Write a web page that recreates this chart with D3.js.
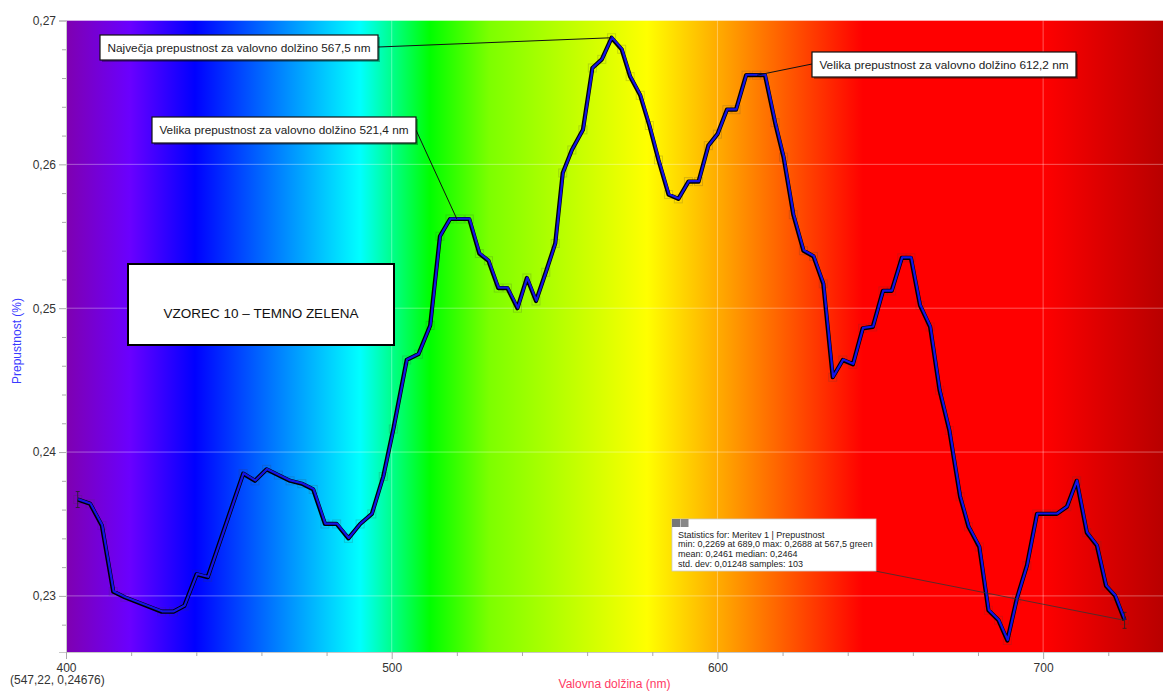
<!DOCTYPE html>
<html>
<head>
<meta charset="utf-8">
<script src="https://cdn.jsdelivr.net/npm/d3@7"></script>
<style>
  body { margin: 0; background: #fff; }
  svg { display: block; font-family: "Liberation Sans", Arial, sans-serif; }
</style>
</head>
<body>
<div id="chart"></div>
<script>
// =======================
// Prepustnost vs valovna dolzina (VZOREC 10)
// =======================

// Measured points (nm)
const wavelengths = [403.6, 407.4, 411.0, 414.5, 418.1, 429.4, 433.0, 436.3, 440.1, 443.5,
  454.4, 458.0, 461.6, 465.2, 468.8, 472.4, 475.9, 479.5, 483.1, 486.7,
  490.3, 493.9, 497.4, 500.5, 504.6, 508.2, 511.8, 514.8, 517.9, 521.0,
  523.8, 526.9, 529.7, 532.7, 535.5, 538.6, 541.5, 544.3, 547.3, 550.2,
  552.5, 555.3, 558.7, 561.6, 564.5, 567.5, 570.6, 573.2, 576.3, 579.1,
  581.9, 585.0, 588.0, 591.1, 594.2, 597.2, 600.0, 602.9, 605.7, 608.8,
  611.9, 614.6, 617.7, 620.3, 623.3, 626.4, 629.5, 632.5, 635.4, 638.5,
  641.6, 644.6, 647.7, 650.8, 653.5, 656.6, 659.4, 662.2, 665.3, 668.2,
  671.2, 674.5, 677.1, 680.4, 683.2, 686.3, 689.0, 691.9, 695.0, 698.1,
  701.1, 704.2, 707.3, 710.3, 713.4, 716.5, 719.3, 722.1, 725.0];

// Transmittance
const transmittance = [0.2367, 0.2364, 0.2349, 0.2303, 0.2299, 0.2289, 0.2289, 0.2293, 0.2315, 0.2313,
  0.2385, 0.2380, 0.2388, 0.2384, 0.2380, 0.2378, 0.2374, 0.2350, 0.2350, 0.2340,
  0.2350, 0.2357, 0.2383, 0.2416, 0.2464, 0.2468, 0.2488, 0.2550, 0.2562, 0.2562,
  0.2562, 0.2538, 0.2533, 0.2514, 0.2514, 0.2500, 0.2521, 0.2505, 0.2525, 0.2545,
  0.2594, 0.2610, 0.2624, 0.2667, 0.2673, 0.2688, 0.2680, 0.2661, 0.2648, 0.2627,
  0.2603, 0.2579, 0.2576, 0.2588, 0.2588, 0.2613, 0.2621, 0.2638, 0.2638, 0.2662,
  0.2662, 0.2662, 0.2629, 0.2605, 0.2565, 0.2540, 0.2536, 0.2517, 0.2452, 0.2464,
  0.2461, 0.2486, 0.2487, 0.2512, 0.2512, 0.2535, 0.2535, 0.2502, 0.2487, 0.2443,
  0.2415, 0.2369, 0.2348, 0.2334, 0.2290, 0.2283, 0.2269, 0.2298, 0.2321, 0.2357,
  0.2357, 0.2357, 0.2362, 0.2380, 0.2344, 0.2335, 0.2307, 0.2300, 0.2283];

// Spectrum background stops (nm -> colour)
const spectrumNm = [400, 419.7, 439.6, 490.3, 511.8, 530, 578.4, 644.7, 700, 736.8];
const spectrumColors = ["#7f00b0", "#6a00ff", "#0000ff", "#00ffff", "#00ff00", "#7cff00", "#ffff00", "#ff0000", "#ff0000", "#b80000"];

// Ticks
const xMajorTicks = [400, 500, 600, 700];
const xMinorTicks = d3.range(420, 737, 20).filter(d => d % 100 !== 0);
const yMajorTicks = [0.23, 0.24, 0.25, 0.26, 0.27];
const yMinorTicks = d3.range(0.228, 0.2701, 0.002).filter(d => Math.abs(d * 100 - Math.round(d * 100)) > 1e-6);

// Annotations
const notes = [
  { text: "Največja prepustnost za valovno dolžino 567,5 nm", wl: 567.5, val: 0.2688, box: [100, 35, 278, 25], from: [378, 47] },
  { text: "Velika prepustnost za valovno dolžino 521,4 nm", wl: 520.0, val: 0.2562, box: [152, 117, 264, 26], from: [416, 130] },
  { text: "Velika prepustnost za valovno dolžino 612,2 nm", wl: 612.2, val: 0.2662, box: [812, 52, 264, 25], from: [812, 64] }
];
const statsLines = [
  "Statistics for: Meritev 1 | Prepustnost",
  "min: 0,2269 at 689,0 max: 0,2688 at 567,5 green",
  "mean: 0,2461 median: 0,2464",
  "std. dev: 0,01248 samples: 103"
];

const W = 1163, H = 691;
const margin = { top: 20.5, right: 0, bottom: 39, left: 66 };

const svg = d3.select("#chart").append("svg")
  .attr("width", W)
  .attr("height", H);

const x = d3.scaleLinear().domain([400, 736.8]).range([margin.left, W - margin.right]);
const y = d3.scaleLinear().domain([0.2261, 0.27]).range([H - margin.bottom, margin.top]);

const fmt = d => d3.format(".2f")(d).replace(".", ",");

// Gradient
const grad = svg.append("defs").append("linearGradient")
  .attr("id", "spectrum")
  .attr("gradientUnits", "userSpaceOnUse")
  .attr("x1", x(400)).attr("x2", x(736.8))
  .attr("y1", 0).attr("y2", 0);
spectrumNm.forEach((nm, i) => {
  grad.append("stop")
    .attr("offset", (x(nm) - x(400)) / (x(736.8) - x(400)))
    .attr("stop-color", spectrumColors[i]);
});

svg.append("rect")
  .attr("x", x(400)).attr("y", y(0.27))
  .attr("width", x(736.8) - x(400))
  .attr("height", y(0.2261) - y(0.27))
  .attr("fill", "url(#spectrum)");

// Grid
svg.append("g").selectAll("line")
  .data(yMajorTicks)
  .join("line")
    .attr("x1", x(400)).attr("x2", x(736.8))
    .attr("y1", d => y(d)).attr("y2", d => y(d))
    .attr("stroke", "#fff").attr("stroke-opacity", 0.35).attr("stroke-width", 1);
svg.append("g").selectAll("line")
  .data(xMajorTicks.slice(1))
  .join("line")
    .attr("x1", d => x(d)).attr("x2", d => x(d))
    .attr("y1", y(0.27)).attr("y2", y(0.2261))
    .attr("stroke", "#fff").attr("stroke-opacity", 0.35).attr("stroke-width", 1);

// Axes
svg.append("g")
  .attr("transform", `translate(${margin.left},0)`)
  .call(d3.axisLeft(y).tickValues(yMajorTicks).tickFormat(fmt).tickSize(7).tickPadding(3));
svg.append("g")
  .attr("transform", `translate(${margin.left},0)`)
  .call(d3.axisLeft(y).tickValues(yMinorTicks).tickFormat("").tickSize(4))
  .call(g => g.select(".domain").remove());

svg.append("g")
  .attr("transform", `translate(0,${H - margin.bottom})`)
  .call(d3.axisBottom(x).tickValues(xMajorTicks).tickSize(7).tickPadding(4));
svg.append("g")
  .attr("transform", `translate(0,${H - margin.bottom})`)
  .call(d3.axisBottom(x).tickValues(xMinorTicks).tickFormat("").tickSize(4))
  .call(g => g.select(".domain").remove());

svg.selectAll(".domain").attr("stroke", "#c8c8c8");
svg.selectAll(".tick line").attr("stroke", "#aaa");
svg.selectAll(".tick text").attr("fill", "#333").style("font-size", "12px")
  .style("font-family", "'Liberation Sans', Arial, sans-serif");

// Axis titles
svg.append("text")
  .attr("transform", "rotate(-90)")
  .attr("x", -341).attr("y", 21)
  .attr("text-anchor", "middle")
  .attr("fill", "#3a3aff")
  .style("font-size", "12px")
  .text("Prepustnost (%)");

svg.append("text")
  .attr("x", (x(400) + x(736.8)) / 2).attr("y", 688)
  .attr("text-anchor", "middle")
  .attr("fill", "#ff3a64")
  .style("font-size", "12px")
  .text("Valovna dolžina (nm)");

svg.append("text")
  .attr("x", 10).attr("y", 684)
  .attr("fill", "#333")
  .style("font-size", "12px")
  .text("(547,22, 0,24676)");

// Data
const points = wavelengths.map((w, i) => ({ wl: w, val: transmittance[i] }));
const line = d3.line().x(d => x(d.wl)).y(d => y(d.val));

svg.append("g").selectAll("rect")
  .data(points)
  .join("rect")
    .attr("x", d => x(d.wl) - 4).attr("y", d => y(d.val) - 4)
    .attr("width", 8).attr("height", 8)
    .attr("fill", "none")
    .attr("stroke", "rgba(60,60,60,0.2)")
    .attr("stroke-width", 1);

svg.append("path")
  .datum(points)
  .attr("d", line)
  .attr("fill", "none")
  .attr("stroke", "#000")
  .attr("stroke-width", 4.2)
  .attr("stroke-linejoin", "round");

svg.append("path")
  .datum(points)
  .attr("transform", "translate(0.4,-0.4)")
  .attr("d", line)
  .attr("fill", "none")
  .attr("stroke", "#1414e6")
  .attr("stroke-width", 2.2)
  .attr("stroke-linejoin", "round");

// Cursor marks at first and last point
[points[0], points[points.length - 1]].forEach(p => {
  const cx = x(p.wl), cy = y(p.val);
  svg.append("path")
    .attr("d", `M${cx - 2},${cy - 8}h4M${cx},${cy - 8}v16M${cx - 2},${cy + 8}h4`)
    .attr("stroke", "#222").attr("stroke-width", 0.8).attr("fill", "none");
});

// Annotations
notes.forEach(n => {
  svg.append("line")
    .attr("x1", n.from[0]).attr("y1", n.from[1])
    .attr("x2", x(n.wl)).attr("y2", y(n.val))
    .attr("stroke", "#111").attr("stroke-width", 1);
  const [bx, by, bw, bh] = n.box;
  svg.append("rect")
    .attr("x", bx + 2).attr("y", by + 2).attr("width", bw).attr("height", bh)
    .attr("fill", "rgba(0,0,0,0.3)");
  svg.append("rect")
    .attr("x", bx).attr("y", by).attr("width", bw).attr("height", bh)
    .attr("fill", "#fff").attr("stroke", "#111").attr("stroke-width", 1.2);
  svg.append("text")
    .attr("x", bx + bw / 2).attr("y", by + bh / 2 + 4)
    .attr("text-anchor", "middle")
    .attr("fill", "#222")
    .style("font-size", "11.8px")
    .text(n.text);
});

// Title box
svg.append("rect")
  .attr("x", 128).attr("y", 264).attr("width", 266).attr("height", 81)
  .attr("fill", "#fff").attr("stroke", "#000").attr("stroke-width", 2);
svg.append("text")
  .attr("x", 261).attr("y", 318)
  .attr("text-anchor", "middle")
  .attr("fill", "#111")
  .style("font-size", "13.5px")
  .text("VZOREC 10 – TEMNO ZELENA");

// Statistics box
const last = points[points.length - 1];
svg.append("line")
  .attr("x1", 860).attr("y1", 568)
  .attr("x2", x(last.wl)).attr("y2", y(last.val))
  .attr("stroke", "#333").attr("stroke-width", 0.8);
svg.append("rect")
  .attr("x", 672).attr("y", 519).attr("width", 204).attr("height", 52)
  .attr("fill", "#fff").attr("stroke", "#ccc").attr("stroke-width", 0.8);
svg.append("rect").attr("x", 672).attr("y", 519).attr("width", 8).attr("height", 8).attr("fill", "#777");
svg.append("rect").attr("x", 680.5).attr("y", 519).attr("width", 8).attr("height", 8).attr("fill", "#888");
svg.append("g").selectAll("text")
  .data(statsLines)
  .join("text")
    .attr("x", 678).attr("y", (d, i) => 537.5 + i * 9.7)
    .attr("fill", "#222")
    .style("font-size", "9px")
    .text(d => d);
</script>
</body>
</html>
